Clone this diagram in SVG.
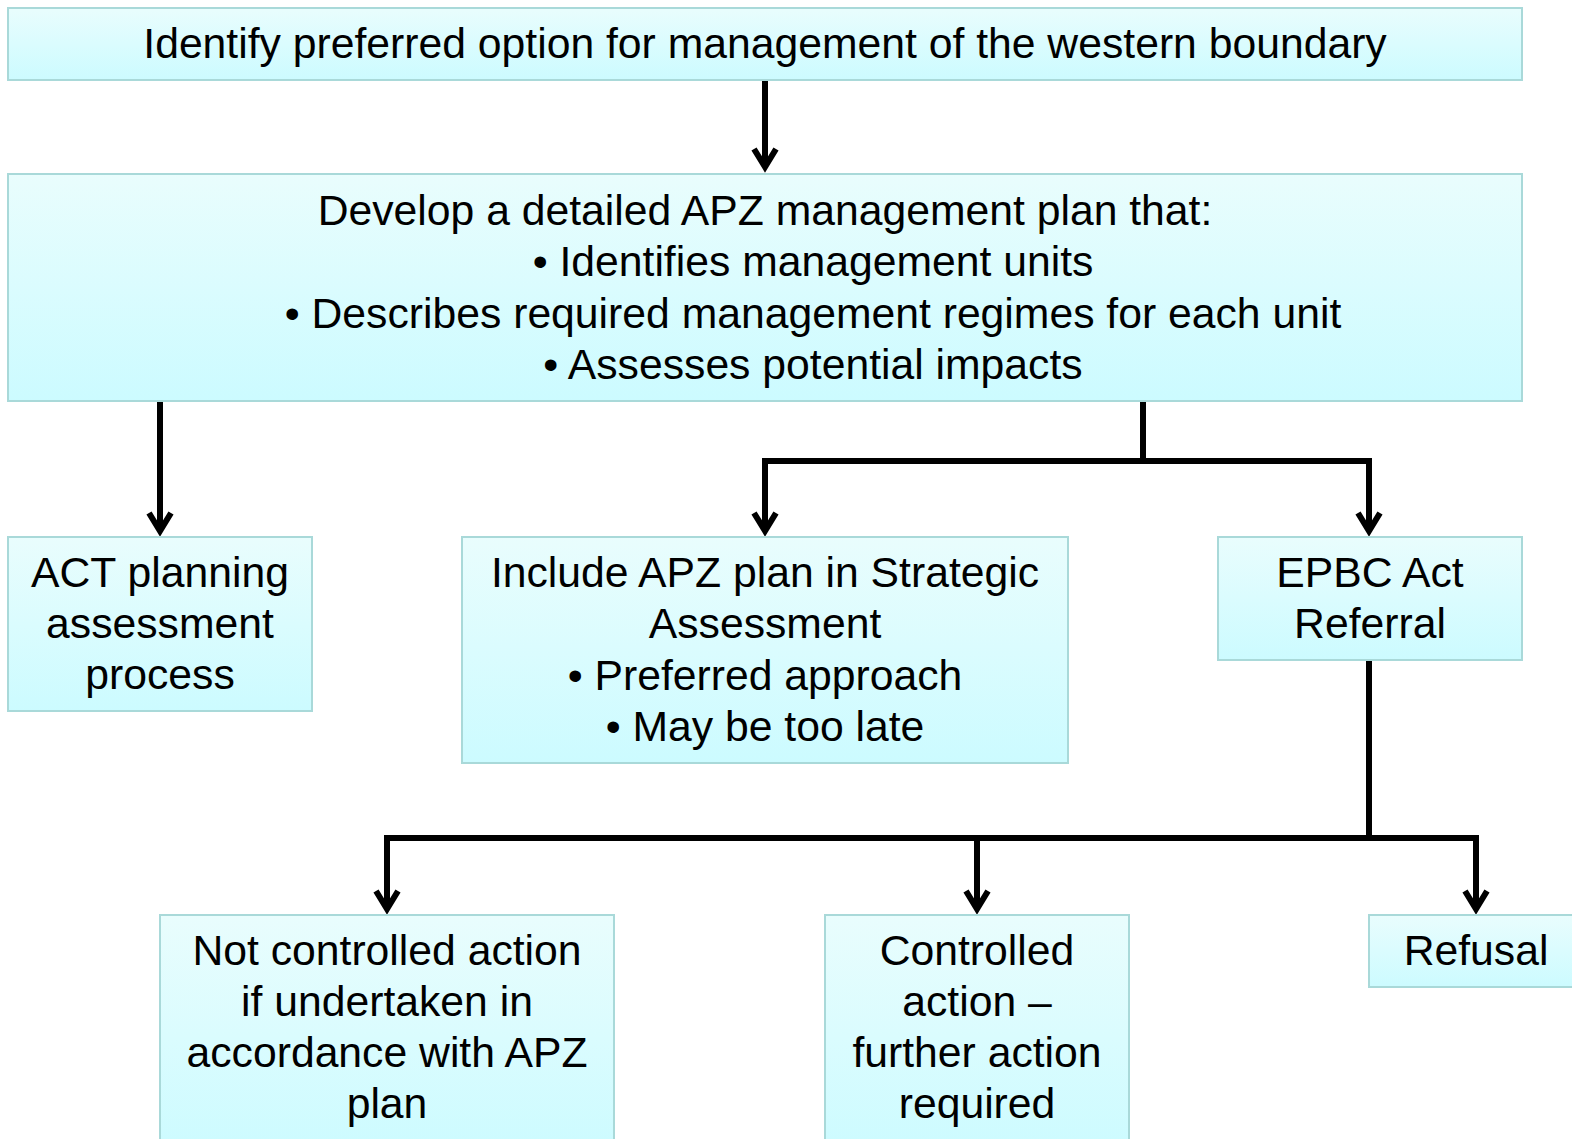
<svg xmlns="http://www.w3.org/2000/svg" width="1572" height="1139" viewBox="0 0 1572 1139">
<defs>
<linearGradient id="g" x1="0" y1="0" x2="0" y2="1">
<stop offset="0" stop-color="#e9fdfd"/>
<stop offset="1" stop-color="#ccfbff"/>
</linearGradient>
<marker id="ah" markerUnits="userSpaceOnUse" viewBox="-24 -16 34 32" markerWidth="34" markerHeight="32" refX="0" refY="0" orient="auto">
<path d="M-18,-11 L0,0 L-18,11" fill="none" stroke="#000" stroke-width="6" stroke-linejoin="miter"/>
</marker>
<style>
.box{fill:url(#g);stroke:#a9d9d9;stroke-width:2}
.t{font-family:"Liberation Sans",Arial,sans-serif;font-size:42.7px;fill:#000;text-anchor:middle}
.c{fill:none;stroke:#000;stroke-width:6;stroke-linejoin:miter}
.a{marker-end:url(#ah)}
</style>
</defs>
<rect width="1572" height="1139" fill="#fff"/>
<g id="connectors">
<path class="c a" d="M765,80 V167"/>
<path class="c a" d="M160,401 V531"/>
<path class="c" d="M1143,401 V461"/>
<path class="c" d="M762,461 H1372"/>
<path class="c a" d="M765,458 V531"/>
<path class="c a" d="M1369,458 V531"/>
<path class="c" d="M1369,660 V838"/>
<path class="c" d="M384,838 H1479"/>
<path class="c a" d="M387,835 V909"/>
<path class="c a" d="M977,838 V909"/>
<path class="c a" d="M1476,835 V909"/>
</g>
<g id="n1">
<rect class="box" x="8" y="8" width="1514" height="72"/>
<text class="t" x="765" y="58">Identify preferred option for management of the western boundary</text>
</g>
<g id="n2">
<rect class="box" x="8" y="174" width="1514" height="227"/>
<text class="t" x="765" y="225">Develop a detailed APZ management plan that:</text>
<text class="t" x="813" y="276">• Identifies management units</text>
<text class="t" x="813" y="328">• Describes required management regimes for each unit</text>
<text class="t" x="813" y="379">• Assesses potential impacts</text>
</g>
<g id="n3">
<rect class="box" x="8" y="537" width="304" height="174"/>
<text class="t" x="160" y="587">ACT planning</text>
<text class="t" x="160" y="638">assessment</text>
<text class="t" x="160" y="689">process</text>
</g>
<g id="n4">
<rect class="box" x="462" y="537" width="606" height="226"/>
<text class="t" x="765" y="587">Include APZ plan in Strategic</text>
<text class="t" x="765" y="638">Assessment</text>
<text class="t" x="765" y="690">• Preferred approach</text>
<text class="t" x="765" y="741">• May be too late</text>
</g>
<g id="n5">
<rect class="box" x="1218" y="537" width="304" height="123"/>
<text class="t" x="1370" y="587">EPBC Act</text>
<text class="t" x="1370" y="638">Referral</text>
</g>
<g id="n6">
<rect class="box" x="160" y="915" width="454" height="240"/>
<text class="t" x="387" y="965">Not controlled action</text>
<text class="t" x="387" y="1016">if undertaken in</text>
<text class="t" x="387" y="1067">accordance with APZ</text>
<text class="t" x="387" y="1118">plan</text>
</g>
<g id="n7">
<rect class="box" x="825" y="915" width="304" height="240"/>
<text class="t" x="977" y="965">Controlled</text>
<text class="t" x="977" y="1016">action –</text>
<text class="t" x="977" y="1067">further action</text>
<text class="t" x="977" y="1118">required</text>
</g>
<g id="n8">
<rect class="box" x="1369" y="915" width="220" height="72"/>
<text class="t" x="1476" y="965">Refusal</text>
</g>
</svg>
